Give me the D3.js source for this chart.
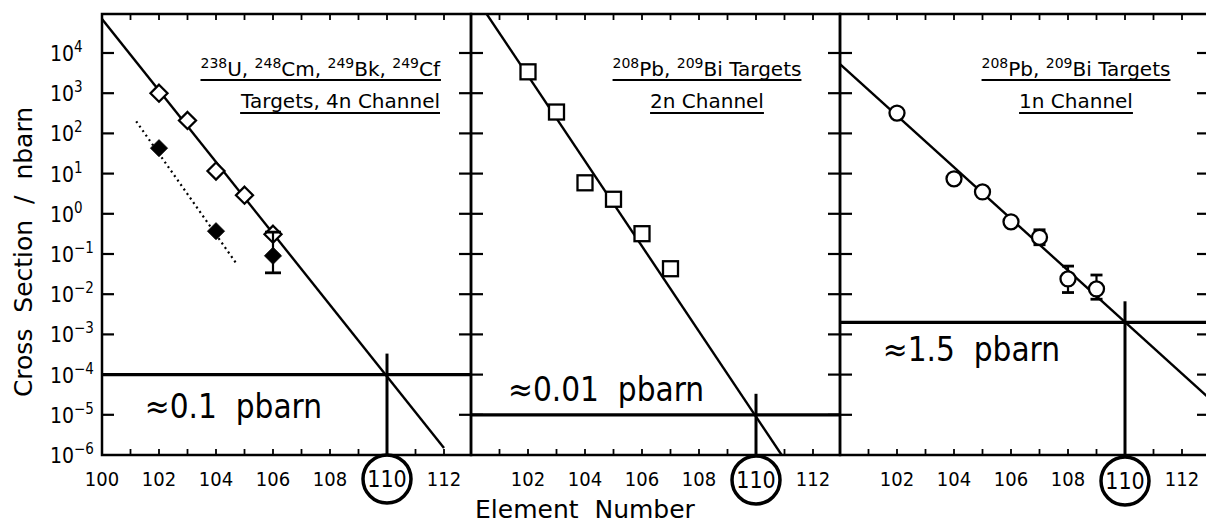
<!DOCTYPE html>
<html>
<head>
<meta charset="utf-8">
<script src="https://cdn.jsdelivr.net/npm/d3@7"></script>
<style>
  body { margin: 0; background: #fff; }
  text { white-space: pre; }
</style>
</head>
<body>
<script>
// element numbers / decades used for ticks
var elementTicks = [100, 101, 102, 103, 104, 105, 106, 107, 108, 109, 110, 111, 112];
var panel1Labels = [100, 102, 104, 106, 108, 112];
var panelLabels = [102, 104, 106, 108, 112];
var decades = [-6, -5, -4, -3, -2, -1, 0, 1, 2, 3, 4];

// 238U, 248Cm, 249Bk, 249Cf targets, 4n channel
var cmOpenZ = [102, 103, 104, 105, 106];
var cmOpenSigma = [1000, 210, 11.6, 2.9, 0.31];
var cmFilledZ = [102, 104, 106];
var cmFilledSigma = [43, 0.37, 0.09];
var cmFilledErrLo = [null, null, 0.034];
var cmFilledErrHi = [null, null, 0.35];
var cmFit = [[100, 7e4], [112, 1.5e-6]];
var cmDotted = [[101.2, 200], [104.7, 0.06]];

// 208Pb, 209Bi targets, 2n channel
var pb2nZ = [102, 103, 104, 105, 106, 107];
var pb2nSigma = [3400, 340, 5.9, 2.3, 0.32, 0.043];
var pb2nFit = [[100.55, 9.3e4], [110.9, 1e-6]];

// 208Pb, 209Bi targets, 1n channel
var pb1nZ = [102, 104, 105, 106, 107, 108, 109];
var pb1nSigma = [320, 7.4, 3.5, 0.63, 0.26, 0.024, 0.0135];
var pb1nErrLo = [null, null, null, null, 0.17, 0.011, 0.0075];
var pb1nErrHi = [null, null, null, null, 0.4, 0.05, 0.03];
var pb1nFit = [[100, 5.3e3], [112.95, 2.6e-5]];

// extrapolated limits at Z = 110
var limitZ = 110;
var limits = [1e-4, 1e-5, 2e-3];
var limitTexts = ["\u22480.1  pbarn", "\u22480.01  pbarn", "\u22481.5  pbarn"];

var titles1 = [
  [["238", "U, "], ["248", "Cm, "], ["249", "Bk, "], ["249", "Cf"]],
  [["208", "Pb, "], ["209", "Bi Targets"]],
  [["208", "Pb, "], ["209", "Bi Targets"]]
];
var titles2 = ["Targets, 4n Channel", "2n Channel", "1n Channel"];

var condensed = '"DejaVu Sans Condensed", "Liberation Sans Narrow", "DejaVu Sans", sans-serif';
var regular = '"DejaVu Sans", sans-serif';

var chartW = 1206, chartH = 525;
var plotLeft = 102, plotTop = 14, plotBottom = 455, panelW = 369;

var svg = d3.select("body").append("svg")
    .attr("width", chartW)
    .attr("height", chartH);

var x = d3.scaleLinear().domain([100, 100 + panelW / 28.5]).range([0, panelW]);
var y = d3.scaleLog().domain([1e-6, Math.pow(10, 4.97)]).range([plotBottom, plotTop]);

var line = d3.line().x(function(d) { return x(d[0]); }).y(function(d) { return y(d[1]); });

function diamond(s) {
  return "M0," + (-s) + "L" + s + ",0L0," + s + "L" + (-s) + ",0Z";
}

function panel(i) {
  var g = svg.append("g").attr("transform", "translate(" + (plotLeft + i * panelW) + ",0)");

  g.append("clipPath").attr("id", "clip" + i)
    .append("rect").attr("x", 0).attr("y", plotTop).attr("width", panelW).attr("height", plotBottom - plotTop);

  // ticks
  elementTicks.forEach(function(z) {
    if (z == 100) return;
    g.append("line").attr("x1", x(z)).attr("x2", x(z)).attr("y1", plotTop).attr("y2", plotTop + 6)
      .style("stroke", "#000").style("stroke-width", 1.8);
    g.append("line").attr("x1", x(z)).attr("x2", x(z)).attr("y1", plotBottom).attr("y2", plotBottom - 6)
      .style("stroke", "#000").style("stroke-width", 1.8);
  });
  decades.forEach(function(e) {
    if (e == -6) return;
    var yy = y(Math.pow(10, e));
    g.append("line").attr("x1", 0).attr("x2", 12).attr("y1", yy).attr("y2", yy)
      .style("stroke", "#000").style("stroke-width", 2.2);
    g.append("line").attr("x1", panelW - 12).attr("x2", panelW).attr("y1", yy).attr("y2", yy)
      .style("stroke", "#000").style("stroke-width", 2.2);
  });

  // frame
  g.append("rect").attr("x", 0).attr("y", plotTop).attr("width", panelW).attr("height", plotBottom - plotTop)
    .style("fill", "none").style("stroke", "#000").style("stroke-width", 2.5);

  // x tick labels
  var labs = i == 0 ? panel1Labels : panelLabels;
  g.selectAll(".xl").data(labs).enter().append("text")
    .text(function(d) { return d; })
    .attr("x", function(d) { return x(d); })
    .attr("y", 486)
    .attr("text-anchor", "middle")
    .style("font-family", condensed)
    .style("font-size", "20px");

  // circled 110
  g.append("circle").attr("cx", x(limitZ)).attr("cy", 479 + i).attr("r", 24)
    .style("fill", "none").style("stroke", "#000").style("stroke-width", 3.5);
  g.append("text").text(limitZ)
    .attr("x", x(limitZ)).attr("y", 487 + i)
    .attr("text-anchor", "middle")
    .style("font-family", condensed)
    .style("font-size", "23px");

  // limit lines
  var ly = y(limits[i]);
  g.append("line").attr("x1", 0).attr("x2", panelW).attr("y1", ly).attr("y2", ly)
    .style("stroke", "#000").style("stroke-width", 3.2);
  g.append("line").attr("x1", x(limitZ)).attr("x2", x(limitZ)).attr("y1", plotBottom).attr("y2", ly - 21)
    .style("stroke", "#000").style("stroke-width", 3);

  var tx = i == 1 ? x(101.3) : x(101.5);
  var ty = i == 0 ? ly + 43 : (i == 1 ? ly - 14 : ly + 39);
  g.append("text").text(limitTexts[i])
    .attr("x", tx).attr("y", ty)
    .style("font-family", condensed)
    .style("font-size", "33px");

  // titles
  var anchor = i == 0 ? "end" : "middle";
  var tX = i == 0 ? 338 : 236;
  var t1 = g.append("text").attr("x", tX).attr("y", 76).attr("text-anchor", anchor)
    .style("font-family", regular).style("font-size", "20px");
  titles1[i].forEach(function(p) {
    t1.append("tspan").text(p[0]).attr("dy", -8).style("font-size", "14px");
    t1.append("tspan").text(p[1]).attr("dy", 8);
  });
  var b1 = t1.node().getBBox();
  g.append("line").attr("x1", b1.x).attr("x2", b1.x + b1.width).attr("y1", 80).attr("y2", 80)
    .style("stroke", "#000").style("stroke-width", 2);

  var t2 = g.append("text").text(titles2[i]).attr("x", tX).attr("y", 108).attr("text-anchor", anchor)
    .style("font-family", regular).style("font-size", "20px");
  var b2 = t2.node().getBBox();
  g.append("line").attr("x1", b2.x).attr("x2", b2.x + b2.width).attr("y1", 113).attr("y2", 113)
    .style("stroke", "#000").style("stroke-width", 2);

  return g.append("g").attr("clip-path", "url(#clip" + i + ")");
}

function errorBars(g, zs, lo, hi, cap) {
  zs.forEach(function(z, k) {
    if (lo[k] == null) return;
    var xx = x(z);
    g.append("line").attr("x1", xx).attr("x2", xx).attr("y1", y(lo[k])).attr("y2", y(hi[k]))
      .style("stroke", "#000").style("stroke-width", 2.2);
    [lo[k], hi[k]].forEach(function(v) {
      g.append("line").attr("x1", xx - cap).attr("x2", xx + cap).attr("y1", y(v)).attr("y2", y(v))
        .style("stroke", "#000").style("stroke-width", 2.8);
    });
  });
}

// panel 1
var p1 = panel(0);
p1.append("path").datum(cmFit).attr("d", line)
  .style("fill", "none").style("stroke", "#000").style("stroke-width", 2.4);
p1.append("path").datum(cmDotted).attr("d", line)
  .style("fill", "none").style("stroke", "#000").style("stroke-width", 2.2)
  .style("stroke-dasharray", "2,3.5");
p1.selectAll(".od").data(cmOpenZ).enter().append("path")
  .attr("d", diamond(8.5))
  .attr("transform", function(d, k) { return "translate(" + x(d) + "," + y(cmOpenSigma[k]) + ")"; })
  .style("fill", "#fff").style("stroke", "#000").style("stroke-width", 2.3);
errorBars(p1, cmFilledZ, cmFilledErrLo, cmFilledErrHi, 8);
p1.selectAll(".fd").data(cmFilledZ).enter().append("path")
  .attr("d", diamond(8.5))
  .attr("transform", function(d, k) { return "translate(" + x(d) + "," + y(cmFilledSigma[k]) + ")"; })
  .style("fill", "#000").style("stroke", "#000").style("stroke-width", 1);

// panel 2
var p2 = panel(1);
p2.append("path").datum(pb2nFit).attr("d", line)
  .style("fill", "none").style("stroke", "#000").style("stroke-width", 2.4);
p2.selectAll(".sq").data(pb2nZ).enter().append("rect")
  .attr("x", function(d) { return x(d) - 7.5; })
  .attr("y", function(d, k) { return y(pb2nSigma[k]) - 7.5; })
  .attr("width", 15).attr("height", 15)
  .style("fill", "#fff").style("stroke", "#000").style("stroke-width", 2.3);

// panel 3
var p3 = panel(2);
p3.append("path").datum(pb1nFit).attr("d", line)
  .style("fill", "none").style("stroke", "#000").style("stroke-width", 2.4);
errorBars(p3, pb1nZ, pb1nErrLo, pb1nErrHi, 6);
p3.selectAll(".ci").data(pb1nZ).enter().append("circle")
  .attr("cx", function(d) { return x(d); })
  .attr("cy", function(d, k) { return y(pb1nSigma[k]); })
  .attr("r", 7.5)
  .style("fill", "#fff").style("stroke", "#000").style("stroke-width", 2.3);

// y tick labels
decades.forEach(function(e) {
  var t = svg.append("text").attr("x", 50).attr("y", y(Math.pow(10, e)) + 8)
    .style("font-family", condensed).style("font-size", "21px");
  t.append("tspan").text("10");
  t.append("tspan").text(e < 0 ? "\u2212" + (-e) : e).attr("dy", -9).style("font-size", "15px");
});

// axis titles
svg.append("text").text("Cross  Section  /  nbarn")
  .attr("transform", "translate(32,252) rotate(-90)")
  .attr("text-anchor", "middle")
  .style("font-family", regular).style("font-size", "25px");

svg.append("text").text("Element  Number")
  .attr("x", 585).attr("y", 518)
  .attr("text-anchor", "middle")
  .style("font-family", regular).style("font-size", "25px");
</script>
</body>
</html>
